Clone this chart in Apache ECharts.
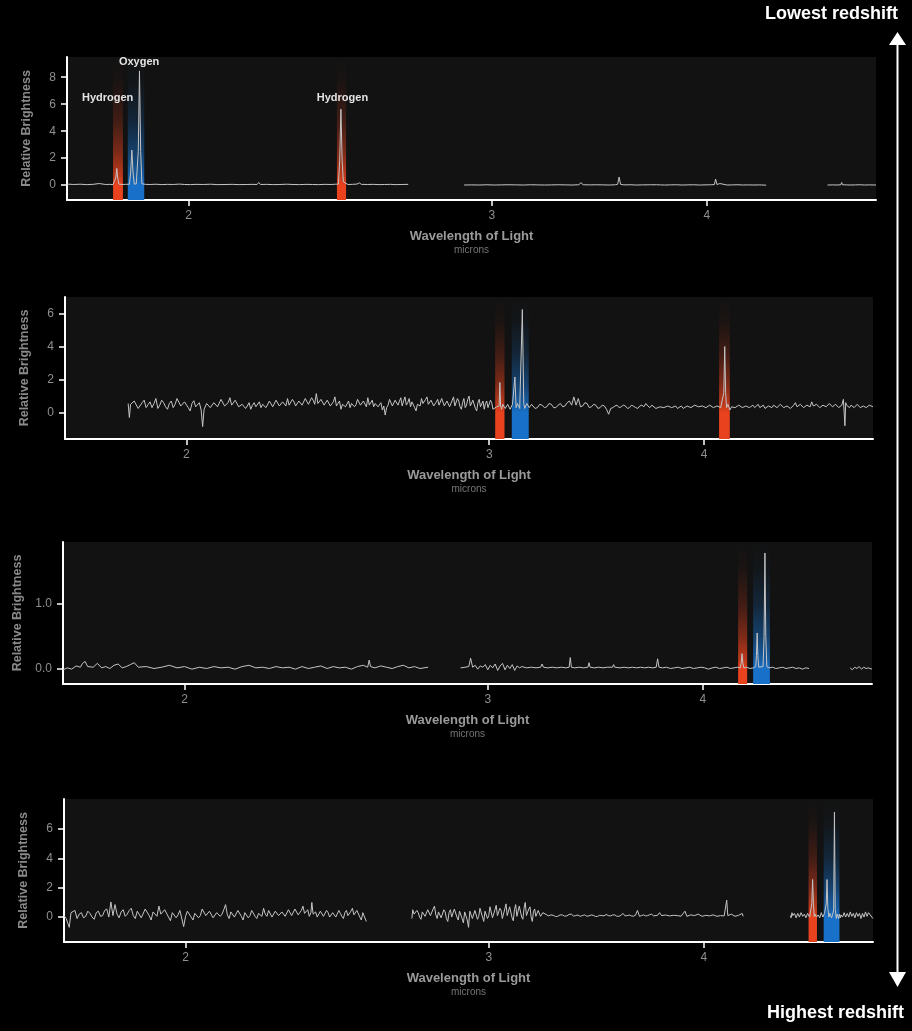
<!DOCTYPE html>
<html><head><meta charset="utf-8">
<script src="https://cdn.jsdelivr.net/npm/echarts@6/dist/echarts.min.js"></script>
<style>html,body{margin:0;padding:0;background:#000;}#c{width:912px;height:1031px;}</style>
</head><body><div id="c"></div>
<script>
// ---------- axis ticks ----------
const xTicks = [2, 3, 4];
const yTicks1 = [0, 2, 4, 6, 8];
const yTicks2 = [0, 2, 4, 6];
const yTicks3 = [0, 1];
const yTicks4 = [0, 2, 4, 6];

// ---------- emission-line bands (wavelength ranges, microns) ----------
const red1 = [[1.808, 1.832], [2.439, 2.469]];
const blue1 = [[1.844, 1.885]];
const red2 = [[3.024, 3.062], [4.081, 4.140]];
const blue2 = [[3.092, 3.163]];
const red3 = [[4.193, 4.244]];
const blue3 = [[4.278, 4.375]];
const red4 = [[4.601, 4.653]];
const blue4 = [[4.695, 4.795]];

// ---------- line annotations (panel 1) ----------
const labels1 = [['Hydrogen', 1.795, 6.5], ['Oxygen', 1.872, 9.13], ['Hydrogen', 2.457, 6.5]];

// ---------- spectra [wavelength, relative brightness] ----------
const spec1a = [[1.700,0.08],[1.715,0.05],[1.730,0.07],[1.745,0.04],[1.760,0.06],[1.775,0.12],[1.790,0.05],[1.800,0.06],[1.808,0.04],[1.812,0.08],[1.815,0.6],[1.817,1.24],[1.819,0.6],[1.822,0.08],[1.830,0.05],[1.838,0.06],[1.848,0.07],[1.851,0.9],[1.854,2.6],[1.857,0.9],[1.860,0.08],[1.865,0.09],[1.867,0.1],[1.870,2.5],[1.873,8.47],[1.876,2.5],[1.879,0.1],[1.888,0.06],[1.900,0.05],[1.915,0.07],[1.930,0.04],[1.945,0.06],[1.960,0.05],[1.975,0.08],[1.990,0.05],[2.005,0.04],[2.020,0.06],[2.040,0.05],[2.060,0.07],[2.080,0.04],[2.100,0.05],[2.120,0.06],[2.140,0.04],[2.160,0.05],[2.180,0.06],[2.192,0.05],[2.197,0.2],[2.202,0.05],[2.220,0.06],[2.240,0.04],[2.260,0.05],[2.280,0.07],[2.300,0.05],[2.320,0.04],[2.340,0.06],[2.360,0.05],[2.380,0.04],[2.400,0.06],[2.420,0.05],[2.435,0.07],[2.444,0.08],[2.448,1.8],[2.452,5.63],[2.456,1.8],[2.460,0.25],[2.466,0.12],[2.475,0.05],[2.490,0.06],[2.505,0.08],[2.513,0.17],[2.520,0.06],[2.540,0.05],[2.560,0.06],[2.580,0.04],[2.600,0.05],[2.620,0.06],[2.640,0.04],[2.660,0.05],[2.683,0.06]];
const spec1b = [[2.891,0.01],[2.92,0.02],[2.95,0.01],[2.98,0.03],[3.01,0.01],[3.04,0.02],[3.07,0.03],[3.10,0.02],[3.13,0.01],[3.16,0.03],[3.19,0.02],[3.22,0.01],[3.25,0.02],[3.28,0.03],[3.31,0.02],[3.34,0.01],[3.37,0.03],[3.38,0.18],[3.39,0.03],[3.42,0.02],[3.45,0.03],[3.48,0.02],[3.51,0.01],[3.54,0.03],[3.550,0.06],[3.557,0.6],[3.564,0.06],[3.58,0.02],[3.61,0.03],[3.64,0.01],[3.67,0.02],[3.71,0.03],[3.74,0.03],[3.75,0.12],[3.76,0.02],[3.78,0.01],[3.81,0.02],[3.84,0.03],[3.87,0.01],[3.90,0.02],[3.93,0.03],[3.96,0.01],[3.99,0.02],[4.02,0.03],[4.040,0.04],[4.047,0.45],[4.054,0.05],[4.070,0.12],[4.08,0.03],[4.11,0.01],[4.14,0.02],[4.17,0.03],[4.20,0.01],[4.23,0.02],[4.26,0.01],[4.29,0.02],[4.33,0.00]];
const spec1c = [[4.70,0.01],[4.73,0.02],[4.76,0.01],[4.785,0.03],[4.79,0.2],[4.795,0.03],[4.82,0.02],[4.85,0.01],[4.88,0.02],[4.91,0.03],[4.94,0.01],[4.97,0.02],[5.015,0.01]];

const spec2 = [[1.850,0.55],[1.853,-0.30],[1.856,0.50],[1.86,0.40],[1.865,0.70],[1.87,0.62],[1.875,0.25],[1.88,0.35],[1.885,0.60],[1.89,0.75],[1.895,0.30],[1.90,0.48],[1.905,0.65],[1.91,0.30],[1.915,0.55],[1.92,0.85],[1.925,0.25],[1.93,0.45],[1.935,0.75],[1.94,0.60],[1.945,0.35],[1.95,0.20],[1.955,0.55],[1.96,0.70],[1.965,0.30],[1.97,0.50],[1.975,0.85],[1.98,0.78],[1.985,0.40],[1.99,0.35],[1.995,0.65],[2.00,0.60],[2.005,0.30],[2.01,0.10],[2.015,0.55],[2.02,0.72],[2.025,0.35],[2.03,0.40],[2.035,0.60],[2.04,0.15],[2.044,-0.85],[2.048,0.20],[2.05,0.30],[2.055,0.55],[2.06,0.45],[2.065,0.30],[2.07,0.38],[2.075,0.60],[2.08,0.55],[2.085,0.35],[2.09,0.42],[2.095,0.80],[2.10,0.70],[2.105,0.40],[2.11,0.35],[2.115,0.60],[2.12,0.90],[2.125,0.45],[2.13,0.50],[2.135,0.75],[2.14,0.65],[2.145,0.35],[2.15,0.30],[2.155,0.50],[2.16,0.55],[2.165,0.25],[2.17,0.40],[2.175,0.60],[2.18,0.20],[2.185,0.45],[2.19,0.60],[2.195,0.35],[2.20,0.45],[2.205,0.65],[2.21,0.30],[2.215,0.50],[2.22,0.52],[2.225,0.30],[2.23,0.38],[2.235,0.70],[2.24,0.62],[2.245,0.35],[2.25,0.45],[2.255,0.75],[2.26,0.70],[2.265,0.40],[2.27,0.40],[2.275,0.65],[2.28,0.55],[2.285,0.40],[2.29,0.85],[2.295,0.45],[2.30,0.50],[2.305,0.80],[2.31,0.65],[2.315,0.40],[2.32,0.45],[2.325,0.70],[2.33,0.80],[2.335,0.45],[2.34,0.55],[2.345,0.85],[2.35,0.95],[2.355,0.50],[2.36,0.60],[2.365,0.90],[2.37,0.75],[2.375,0.50],[2.38,1.15],[2.385,0.55],[2.39,0.50],[2.395,0.80],[2.40,0.85],[2.405,0.45],[2.41,0.40],[2.415,0.75],[2.42,0.70],[2.425,0.40],[2.43,0.35],[2.435,0.65],[2.44,0.95],[2.445,0.40],[2.45,0.55],[2.455,0.70],[2.46,0.20],[2.465,0.50],[2.47,0.60],[2.475,0.35],[2.48,0.45],[2.485,0.70],[2.49,0.30],[2.495,0.55],[2.50,0.62],[2.505,0.35],[2.51,0.48],[2.515,0.80],[2.52,0.75],[2.525,0.45],[2.53,0.40],[2.535,0.70],[2.54,0.58],[2.545,0.35],[2.55,0.90],[2.555,0.45],[2.56,0.50],[2.565,0.75],[2.57,0.35],[2.575,0.55],[2.58,0.65],[2.585,0.35],[2.59,0.45],[2.595,0.60],[2.60,0.15],[2.605,0.40],[2.61,-0.15],[2.615,0.30],[2.62,0.45],[2.625,0.80],[2.63,0.70],[2.635,0.40],[2.64,0.50],[2.645,0.75],[2.65,0.85],[2.655,0.45],[2.66,0.55],[2.665,0.90],[2.67,0.40],[2.675,0.70],[2.68,0.95],[2.685,0.45],[2.69,0.60],[2.695,0.85],[2.70,0.35],[2.705,0.65],[2.71,0.55],[2.715,0.30],[2.72,0.10],[2.725,0.50],[2.73,0.62],[2.735,0.40],[2.74,0.85],[2.745,0.55],[2.75,0.50],[2.755,0.80],[2.76,0.95],[2.765,0.50],[2.77,0.45],[2.775,0.75],[2.78,0.70],[2.785,0.40],[2.79,0.35],[2.795,0.65],[2.80,0.80],[2.805,0.45],[2.81,0.55],[2.815,0.85],[2.82,0.90],[2.825,0.40],[2.83,0.40],[2.835,0.70],[2.84,0.75],[2.845,0.35],[2.85,0.30],[2.855,0.75],[2.86,0.95],[2.865,0.40],[2.87,0.50],[2.875,0.85],[2.88,0.70],[2.885,0.35],[2.89,0.20],[2.895,0.60],[2.90,0.85],[2.905,0.30],[2.91,0.45],[2.915,0.80],[2.92,1.00],[2.925,0.40],[2.93,0.30],[2.935,0.75],[2.94,0.65],[2.945,0.25],[2.95,0.10],[2.955,0.60],[2.96,0.80],[2.965,0.35],[2.97,0.40],[2.975,0.70],[2.98,0.20],[2.985,0.55],[2.99,0.70],[2.995,0.30],[3.00,0.35],[3.005,0.75],[3.01,0.60],[3.015,0.20],[3.02,0.25],[3.030,0.35],[3.038,0.30],[3.040,0.40],[3.043,1.82],[3.046,0.40],[3.05,0.20],[3.055,0.50],[3.06,0.55],[3.065,0.25],[3.07,0.30],[3.075,0.50],[3.08,0.45],[3.085,0.20],[3.09,0.25],[3.095,0.50],[3.100,0.45],[3.105,2.15],[3.110,0.30],[3.115,0.55],[3.12,0.50],[3.125,0.25],[3.130,0.35],[3.136,6.24],[3.142,0.55],[3.146,0.25],[3.15,0.30],[3.155,0.55],[3.16,0.50],[3.165,0.30],[3.17,0.35],[3.175,0.50],[3.18,0.40],[3.19,0.25],[3.20,0.30],[3.21,0.50],[3.22,0.45],[3.23,0.30],[3.24,0.35],[3.25,0.55],[3.26,0.50],[3.27,0.30],[3.28,0.30],[3.29,0.45],[3.30,0.55],[3.31,0.35],[3.32,0.40],[3.33,0.60],[3.34,0.70],[3.35,0.45],[3.36,0.95],[3.37,0.45],[3.38,0.85],[3.39,0.35],[3.40,0.40],[3.41,0.60],[3.42,0.55],[3.43,0.30],[3.44,0.35],[3.45,0.50],[3.46,0.45],[3.47,0.25],[3.48,0.30],[3.49,0.45],[3.50,0.40],[3.51,0.20],[3.52,-0.10],[3.53,0.25],[3.54,0.30],[3.55,0.40],[3.56,0.45],[3.57,0.30],[3.58,0.35],[3.59,0.45],[3.60,0.40],[3.61,0.25],[3.62,0.30],[3.63,0.45],[3.64,0.38],[3.65,0.30],[3.66,0.25],[3.67,0.40],[3.68,0.45],[3.69,0.35],[3.70,0.55],[3.71,0.40],[3.72,0.30],[3.73,0.45],[3.74,0.35],[3.75,0.25],[3.76,0.20],[3.77,0.35],[3.78,0.40],[3.79,0.30],[3.80,0.30],[3.81,0.40],[3.82,0.45],[3.83,0.30],[3.84,0.35],[3.85,0.40],[3.86,0.25],[3.87,0.35],[3.88,0.40],[3.89,0.25],[3.90,0.30],[3.91,0.40],[3.92,0.45],[3.93,0.30],[3.94,0.35],[3.95,0.45],[3.96,0.55],[3.97,0.35],[3.98,0.30],[3.99,0.40],[4.00,0.40],[4.01,0.30],[4.02,0.35],[4.03,0.45],[4.04,0.45],[4.05,0.30],[4.06,0.30],[4.07,0.40],[4.08,0.40],[4.09,0.30],[4.100,0.35],[4.107,1.2],[4.112,4.0],[4.117,1.2],[4.122,0.30],[4.13,0.50],[4.14,0.15],[4.15,0.35],[4.16,0.45],[4.17,0.30],[4.18,0.30],[4.19,0.45],[4.20,0.40],[4.21,0.30],[4.22,0.25],[4.23,0.40],[4.24,0.45],[4.25,0.30],[4.26,0.35],[4.27,0.45],[4.28,0.30],[4.29,0.40],[4.30,0.50],[4.31,0.30],[4.32,0.35],[4.33,0.45],[4.34,0.25],[4.35,0.35],[4.36,0.40],[4.37,0.30],[4.38,0.30],[4.39,0.45],[4.40,0.55],[4.41,0.30],[4.42,0.35],[4.43,0.50],[4.44,0.45],[4.45,0.30],[4.46,0.25],[4.47,0.40],[4.48,0.40],[4.49,0.25],[4.50,0.30],[4.51,0.45],[4.52,0.60],[4.53,0.35],[4.54,0.40],[4.55,0.50],[4.56,0.45],[4.57,0.30],[4.58,0.30],[4.59,0.45],[4.60,0.50],[4.61,0.35],[4.62,0.65],[4.63,0.40],[4.64,0.35],[4.65,0.50],[4.66,0.45],[4.67,0.30],[4.68,0.30],[4.69,0.45],[4.70,0.55],[4.71,0.35],[4.72,0.40],[4.73,0.55],[4.74,0.60],[4.75,0.35],[4.76,0.35],[4.77,0.50],[4.78,0.50],[4.79,0.30],[4.80,0.30],[4.81,0.45],[4.82,0.80],[4.83,-0.80],[4.835,0.60],[4.84,0.45],[4.85,0.35],[4.86,0.30],[4.87,0.45],[4.88,0.50],[4.89,0.30],[4.90,0.35],[4.91,0.50],[4.92,0.45],[4.93,0.30],[4.94,0.25],[4.95,0.40],[4.96,0.40],[4.97,0.30],[4.98,0.30],[4.99,0.45],[5.015,0.35]];

const spec3a = [[1.700,-0.02],[1.71,0.01],[1.72,-0.01],[1.73,0.04],[1.74,0.02],[1.745,0.08],[1.751,0.11],[1.757,0.03],[1.76,0.06],[1.77,0.02],[1.78,0.08],[1.79,0.01],[1.80,0.03],[1.81,0.00],[1.82,0.05],[1.83,0.07],[1.84,0.01],[1.85,0.03],[1.86,0.06],[1.87,0.09],[1.88,0.02],[1.90,0.03],[1.92,0.00],[1.94,0.02],[1.96,0.05],[1.98,0.01],[2.00,0.03],[2.02,-0.01],[2.04,0.02],[2.06,0.00],[2.08,0.03],[2.10,0.01],[2.12,0.02],[2.14,-0.01],[2.16,0.03],[2.18,0.05],[2.20,0.01],[2.22,0.02],[2.24,0.00],[2.26,0.03],[2.28,0.01],[2.30,0.02],[2.32,-0.01],[2.34,0.03],[2.36,0.00],[2.38,0.02],[2.40,0.04],[2.42,0.00],[2.44,0.03],[2.46,0.01],[2.48,0.02],[2.50,-0.01],[2.52,0.03],[2.54,0.05],[2.555,0.02],[2.56,0.13],[2.565,0.03],[2.58,0.01],[2.60,0.04],[2.62,0.02],[2.64,0.00],[2.66,0.03],[2.68,0.05],[2.70,0.01],[2.72,0.03],[2.74,0.00],[2.77,0.02]];
const spec3b = [[2.893,0.01],[2.91,0.02],[2.925,0.03],[2.932,0.16],[2.94,0.02],[2.95,0.05],[2.96,-0.01],[2.97,0.04],[2.98,0.02],[2.99,0.06],[3.00,-0.02],[3.01,0.05],[3.02,0.01],[3.03,0.07],[3.04,-0.03],[3.05,0.04],[3.06,0.08],[3.07,-0.02],[3.08,0.05],[3.09,0.00],[3.10,0.06],[3.11,-0.03],[3.12,0.04],[3.13,0.01],[3.14,0.03],[3.16,0.01],[3.18,0.02],[3.20,0.01],[3.22,0.02],[3.226,0.07],[3.232,0.02],[3.25,0.01],[3.27,0.02],[3.29,0.01],[3.31,0.02],[3.33,0.01],[3.345,0.02],[3.35,0.17],[3.355,0.02],[3.37,0.01],[3.39,0.02],[3.41,0.01],[3.43,0.02],[3.435,0.09],[3.44,0.02],[3.46,0.01],[3.48,0.02],[3.50,0.01],[3.52,0.02],[3.545,0.02],[3.55,0.06],[3.555,0.02],[3.58,0.01],[3.60,0.02],[3.62,0.01],[3.64,0.02],[3.66,0.01],[3.68,0.02],[3.70,0.01],[3.72,0.02],[3.74,0.01],[3.758,0.02],[3.765,0.15],[3.772,0.02],[3.79,0.01],[3.81,0.02],[3.83,0.00],[3.85,0.01],[3.87,0.02],[3.89,0.00],[3.91,0.01],[3.93,0.02],[3.95,0.00],[3.97,0.01],[3.99,0.02],[4.01,0.01],[4.03,-0.01],[4.05,0.01],[4.07,0.02],[4.09,0.00],[4.11,0.01],[4.13,0.02],[4.15,0.00],[4.17,0.01],[4.19,0.02],[4.205,0.01],[4.210,0.08],[4.215,0.23],[4.220,0.08],[4.225,0.01],[4.24,0.02],[4.26,0.00],[4.28,0.01],[4.293,0.03],[4.297,0.2],[4.301,0.55],[4.305,0.2],[4.310,0.02],[4.320,0.02],[4.335,0.03],[4.341,0.5],[4.346,1.79],[4.351,0.5],[4.357,0.03],[4.37,0.01],[4.39,0.02],[4.41,0.00],[4.43,0.01],[4.45,0.02],[4.47,0.00],[4.49,0.01],[4.51,0.02],[4.53,0.00],[4.55,0.01],[4.57,-0.01],[4.59,0.01],[4.61,0.00]];
const spec3c = [[4.87,0.01],[4.885,-0.02],[4.90,0.02],[4.915,0.00],[4.93,0.03],[4.945,-0.01],[4.96,0.02],[4.975,0.00],[4.99,0.01],[5.015,-0.01]];

const spec4a = [[1.700,0.10],[1.705,-0.10],[1.712,-0.70],[1.716,0.30],[1.720,0.20],[1.725,0.45],[1.73,-0.10],[1.735,0.20],[1.74,0.30],[1.745,-0.05],[1.75,0.05],[1.755,0.40],[1.76,0.25],[1.765,0.00],[1.77,-0.15],[1.775,0.30],[1.78,0.40],[1.785,0.05],[1.79,0.10],[1.795,0.45],[1.80,0.55],[1.805,0.00],[1.81,1.03],[1.815,0.10],[1.82,0.85],[1.825,0.20],[1.83,-0.05],[1.835,0.35],[1.84,0.50],[1.845,0.05],[1.85,0.20],[1.855,0.45],[1.86,0.60],[1.865,0.10],[1.87,-0.10],[1.875,0.40],[1.88,0.35],[1.885,-0.05],[1.89,0.05],[1.895,0.55],[1.90,0.45],[1.905,0.10],[1.91,-0.20],[1.915,0.35],[1.92,0.30],[1.925,0.05],[1.93,0.75],[1.935,0.20],[1.94,0.10],[1.945,0.50],[1.95,0.40],[1.955,0.00],[1.96,-0.25],[1.965,0.30],[1.97,0.35],[1.975,-0.05],[1.98,0.15],[1.985,0.45],[1.99,0.55],[1.995,-0.65],[2.00,0.05],[2.005,0.40],[2.01,0.30],[2.015,0.00],[2.02,-0.20],[2.025,0.25],[2.03,0.35],[2.035,-0.05],[2.04,0.10],[2.045,0.55],[2.05,0.45],[2.055,0.10],[2.06,0.00],[2.065,0.40],[2.07,0.30],[2.075,-0.05],[2.08,-0.15],[2.085,0.30],[2.09,0.40],[2.095,0.05],[2.10,0.20],[2.105,0.50],[2.11,0.85],[2.115,0.15],[2.12,-0.10],[2.125,0.35],[2.13,0.30],[2.135,0.00],[2.14,0.05],[2.145,0.45],[2.15,0.40],[2.155,0.05],[2.16,-0.20],[2.165,0.30],[2.17,0.25],[2.175,-0.05],[2.18,0.10],[2.185,0.45],[2.19,0.35],[2.195,0.05],[2.20,-0.10],[2.205,0.25],[2.21,0.30],[2.215,0.05],[2.22,0.60],[2.225,0.20],[2.23,0.05],[2.235,0.45],[2.24,0.35],[2.245,0.00],[2.25,0.10],[2.255,0.40],[2.26,0.50],[2.265,0.10],[2.27,0.00],[2.275,0.35],[2.28,0.30],[2.285,0.05],[2.29,0.15],[2.295,0.50],[2.30,0.40],[2.305,0.10],[2.31,0.20],[2.315,0.55],[2.32,0.65],[2.325,0.15],[2.33,0.10],[2.335,0.45],[2.34,0.75],[2.345,0.25],[2.35,0.20],[2.355,0.50],[2.36,0.05],[2.365,0.30],[2.368,1.00],[2.372,0.20],[2.375,0.10],[2.38,0.35],[2.385,0.00],[2.39,0.05],[2.395,0.40],[2.40,0.40],[2.405,0.05],[2.41,0.15],[2.415,0.45],[2.42,0.30],[2.425,0.00],[2.43,-0.05],[2.435,0.30],[2.44,0.35],[2.445,0.00],[2.45,0.10],[2.455,0.45],[2.46,0.25],[2.465,0.05],[2.47,-0.10],[2.475,0.30],[2.48,0.45],[2.485,0.10],[2.49,0.05],[2.495,0.40],[2.50,0.60],[2.505,0.15],[2.51,0.10],[2.515,0.45],[2.52,0.35],[2.525,0.00],[2.53,-0.20],[2.535,0.30],[2.54,0.20],[2.547,-0.30]];
const spec4b = [[2.707,-0.10],[2.71,0.50],[2.715,0.20],[2.72,0.10],[2.725,0.45],[2.73,0.30],[2.735,0.00],[2.74,-0.15],[2.745,0.35],[2.75,0.40],[2.755,0.05],[2.76,0.15],[2.765,0.50],[2.77,0.55],[2.775,0.10],[2.78,0.20],[2.785,0.55],[2.79,0.75],[2.795,0.15],[2.80,-0.10],[2.805,0.35],[2.81,0.40],[2.815,-0.05],[2.82,0.05],[2.825,0.50],[2.83,0.35],[2.835,-0.10],[2.84,-0.30],[2.845,0.30],[2.85,0.50],[2.855,0.00],[2.86,0.10],[2.865,0.55],[2.87,0.60],[2.875,0.00],[2.88,-0.20],[2.885,0.40],[2.89,0.45],[2.895,-0.10],[2.90,-0.40],[2.905,0.35],[2.91,0.30],[2.915,-0.20],[2.92,-0.70],[2.925,0.40],[2.93,0.50],[2.935,-0.10],[2.94,-0.20],[2.945,0.45],[2.95,0.40],[2.955,-0.15],[2.96,0.05],[2.965,0.60],[2.97,0.55],[2.975,0.00],[2.98,-0.30],[2.985,0.40],[2.99,0.35],[2.995,-0.10],[3.00,0.10],[3.005,0.70],[3.01,0.60],[3.015,-0.05],[3.02,-0.15],[3.025,0.50],[3.03,0.80],[3.035,0.10],[3.04,0.00],[3.045,0.60],[3.05,0.45],[3.055,-0.10],[3.06,-0.20],[3.065,0.55],[3.07,0.90],[3.075,0.10],[3.08,0.05],[3.085,0.70],[3.09,0.60],[3.095,-0.05],[3.10,-0.25],[3.105,0.50],[3.11,0.85],[3.115,0.05],[3.12,0.10],[3.125,0.75],[3.13,0.65],[3.135,0.00],[3.14,-0.15],[3.145,0.60],[3.15,1.00],[3.155,0.10],[3.16,0.05],[3.165,0.55],[3.17,0.70],[3.175,0.00],[3.18,-0.30],[3.185,0.40],[3.19,0.55],[3.195,0.05],[3.20,0.10],[3.205,0.45],[3.21,0.35],[3.215,0.05],[3.22,0.00],[3.225,0.30],[3.23,0.20],[3.25,0.08],[3.26,0.15],[3.27,0.12],[3.28,0.04],[3.29,0.05],[3.30,0.14],[3.31,0.15],[3.32,0.06],[3.33,0.08],[3.34,0.18],[3.35,0.20],[3.36,0.07],[3.37,0.10],[3.38,0.14],[3.39,0.05],[3.40,0.10],[3.41,0.15],[3.42,0.06],[3.43,0.08],[3.44,0.14],[3.45,0.12],[3.46,0.04],[3.47,0.05],[3.48,0.12],[3.49,0.10],[3.50,0.08],[3.51,0.18],[3.52,0.10],[3.53,0.08],[3.54,0.14],[3.55,0.15],[3.56,0.06],[3.57,0.05],[3.58,0.12],[3.59,0.25],[3.60,0.08],[3.61,0.10],[3.62,0.14],[3.63,0.08],[3.64,0.06],[3.65,0.12],[3.66,0.45],[3.67,0.05],[3.68,0.10],[3.69,0.15],[3.70,0.08],[3.71,0.10],[3.72,0.16],[3.73,0.20],[3.74,0.08],[3.75,0.05],[3.76,0.12],[3.77,0.30],[3.78,0.10],[3.79,0.08],[3.80,0.14],[3.81,0.20],[3.82,0.08],[3.83,0.10],[3.84,0.12],[3.85,0.05],[3.86,0.10],[3.87,0.15],[3.88,0.06],[3.89,0.10],[3.90,0.40],[3.91,0.05],[3.92,0.10],[3.93,0.15],[3.94,0.06],[3.95,0.10],[3.96,0.14],[3.97,0.20],[3.98,0.08],[3.99,0.05],[4.00,0.10],[4.01,0.12],[4.02,0.05],[4.03,0.08],[4.04,0.12],[4.05,0.15],[4.06,0.06],[4.07,0.05],[4.08,0.12],[4.09,0.10],[4.10,0.05],[4.11,0.08],[4.118,0.15],[4.124,1.15],[4.13,0.10],[4.14,0.06],[4.15,0.20],[4.16,0.10],[4.17,0.05],[4.18,0.14],[4.19,0.12],[4.20,0.06],[4.21,0.25],[4.216,0.05]];
const spec4c = [[4.490,0.10],[4.495,-0.05],[4.50,0.30],[4.505,0.10],[4.51,0.05],[4.515,0.25],[4.52,0.20],[4.525,-0.05],[4.53,0.00],[4.535,0.25],[4.54,0.15],[4.545,0.00],[4.55,0.05],[4.555,0.30],[4.56,0.25],[4.565,0.05],[4.57,-0.05],[4.575,0.20],[4.58,0.15],[4.585,-0.05],[4.59,0.05],[4.595,0.25],[4.600,0.20],[4.608,0.00],[4.615,0.10],[4.621,0.9],[4.626,2.56],[4.631,0.9],[4.636,0.05],[4.640,0.20],[4.645,0.25],[4.650,0.00],[4.655,-0.10],[4.660,0.15],[4.665,0.20],[4.670,-0.05],[4.675,0.00],[4.680,0.30],[4.685,0.25],[4.690,0.00],[4.695,0.05],[4.700,0.25],[4.705,0.15],[4.711,0.9],[4.716,2.56],[4.721,0.6],[4.728,0.00],[4.734,0.25],[4.740,0.20],[4.745,-0.05],[4.750,0.10],[4.758,0.5],[4.763,7.15],[4.768,0.5],[4.775,-0.10],[4.780,0.20],[4.785,0.15],[4.79,-0.10],[4.795,0.20],[4.80,-0.05],[4.805,0.15],[4.81,0.20],[4.815,0.00],[4.82,0.05],[4.825,0.30],[4.83,0.25],[4.835,0.00],[4.84,0.00],[4.845,0.25],[4.85,0.20],[4.855,0.00],[4.86,0.10],[4.865,0.35],[4.87,0.30],[4.875,0.05],[4.88,0.05],[4.885,0.25],[4.89,0.20],[4.895,-0.05],[4.90,0.00],[4.905,0.30],[4.91,0.25],[4.915,0.05],[4.92,0.10],[4.925,0.25],[4.93,0.15],[4.935,-0.10],[4.94,-0.05],[4.945,0.25],[4.95,0.20],[4.955,0.00],[4.96,0.05],[4.965,0.35],[4.97,0.30],[4.975,0.05],[4.98,0.10],[4.985,0.30],[4.99,0.20],[5.015,-0.10]];

// ---------- layout / style ----------
const FONT = '"Liberation Sans", Arial, Helvetica, sans-serif';
const RED = '232,66,30', BLUE = '24,112,200';
const panels = [
  {grid:{left:67, top:57, width:809, height:143}, segs:[spec1a, spec1b, spec1c], red:red1, blue:blue1, yMin:-1.1, yMax:9.5, yTicks:yTicks1, dec:0, labels:labels1},
  {grid:{left:65, top:297, width:808, height:142}, segs:[spec2], red:red2, blue:blue2, yMin:-1.6, yMax:7.0, yTicks:yTicks2, dec:0},
  {grid:{left:63, top:542, width:809, height:142}, segs:[spec3a, spec3b, spec3c], red:red3, blue:blue3, yMin:-0.24, yMax:1.96, yTicks:yTicks3, dec:1},
  {grid:{left:64, top:799, width:809, height:143}, segs:[spec4a, spec4b, spec4c], red:red4, blue:blue4, yMin:-1.7, yMax:8.05, yTicks:yTicks4, dec:0}
];

function bandGrad(rgb, zf) {
  return {type:'linear', x:0, y:0, x2:0, y2:1, colorStops:[
    {offset:0, color:'rgba('+rgb+',0)'},
    {offset:zf*0.2, color:'rgba('+rgb+',0.04)'},
    {offset:zf*0.5, color:'rgba('+rgb+',0.22)'},
    {offset:zf*0.75, color:'rgba('+rgb+',0.5)'},
    {offset:zf*0.93, color:'rgba('+rgb+',0.8)'},
    {offset:zf, color:'rgba('+rgb+',1)'},
    {offset:1, color:'rgba('+rgb+',1)'}
  ]};
}

const grids = [], xAxes = [], yAxes = [], series = [];
panels.forEach((p, i) => {
  grids.push(Object.assign({show:true, backgroundColor:'#121212', borderWidth:0, outerBoundsMode:'none', containLabel:false}, p.grid));
  xAxes.push({
    gridIndex:i, type:'log', logBase:10, min:1.70, max:5.015,
    axisLine:{onZero:false, lineStyle:{color:'#ffffff', width:2}},
    axisTick:{show:true, customValues:xTicks, length:6, lineStyle:{color:'#ffffff', width:1.5}},
    axisLabel:{show:true, customValues:xTicks, color:'#8f8f8f', fontSize:12, margin:10, fontFamily:FONT},
    splitLine:{show:false}, minorTick:{show:false},
    name:'{a|Wavelength of Light}\n{b|microns}', nameLocation:'middle', nameGap:28,
    nameTextStyle:{align:'center', verticalAlign:'top', rich:{
      a:{fontSize:13, fontWeight:'bold', color:'#9a9a9a', fontFamily:FONT, lineHeight:16, align:'center'},
      b:{fontSize:10, color:'#767676', fontFamily:FONT, lineHeight:12, align:'center'}}}
  });
  yAxes.push({
    gridIndex:i, type:'value', min:p.yMin, max:p.yMax,
    axisLine:{show:true, onZero:false, lineStyle:{color:'#ffffff', width:2}},
    axisTick:{show:true, customValues:p.yTicks, length:6, lineStyle:{color:'#ffffff', width:1.5}},
    axisLabel:{show:true, customValues:p.yTicks, color:'#8f8f8f', fontSize:12, margin:11, fontFamily:FONT,
      formatter: v => Number(v).toFixed(p.dec)},
    splitLine:{show:false},
    name:'Relative Brightness', nameLocation:'middle', nameGap:34, nameRotate:90,
    nameTextStyle:{color:'#8a8a8a', fontSize:12.5, fontWeight:'bold', fontFamily:FONT}
  });
  const zf = p.yMax / (p.yMax - p.yMin);
  const bands = [];
  p.red.forEach(b => bands.push([{xAxis:b[0], itemStyle:{color:bandGrad(RED, zf)}}, {xAxis:b[1]}]));
  p.blue.forEach(b => bands.push([{xAxis:b[0], itemStyle:{color:bandGrad(BLUE, zf)}}, {xAxis:b[1]}]));
  series.push({type:'line', xAxisIndex:i, yAxisIndex:i, data:[], z:1, silent:true,
    markArea:{silent:true, z:1, data:bands}});
  p.segs.forEach((s, k) => {
    const ser = {type:'line', xAxisIndex:i, yAxisIndex:i, data:s, z:3, symbol:'none', showSymbol:false, silent:true,
      lineStyle:{color:'#c4c4c4', width:1}};
    if (p.labels && k === 0) {
      ser.markPoint = {silent:true, symbol:'rect', symbolSize:[1,1], itemStyle:{color:'rgba(0,0,0,0)'},
        label:{show:true, position:'inside', formatter:'{b}', color:'#e4e4e4', fontSize:11, fontWeight:'bold', fontFamily:FONT},
        data:p.labels.map(l => ({name:l[0], coord:[l[1], l[2]]}))};
    }
    series.push(ser);
  });
});

const chart = echarts.init(document.getElementById('c'), null, {renderer:'canvas'});
chart.setOption({
  backgroundColor:'#000000', animation:false,
  textStyle:{fontFamily:FONT},
  grid:grids, xAxis:xAxes, yAxis:yAxes, series:series,
  graphic:[
    {type:'text', right:14, top:5, style:{text:'Lowest redshift', fill:'#ffffff', font:'bold 18px ' + FONT}},
    {type:'line', shape:{x1:897.5, y1:44, x2:897.5, y2:973}, style:{stroke:'#ffffff', lineWidth:2}},
    {type:'polygon', shape:{points:[[889,45],[906,45],[897.5,32]]}, style:{fill:'#ffffff'}},
    {type:'polygon', shape:{points:[[889,972],[906,972],[897.5,987]]}, style:{fill:'#ffffff'}},
    {type:'text', right:8, top:1004, style:{text:'Highest redshift', fill:'#ffffff', font:'bold 18px ' + FONT}}
  ]
});
</script></body></html>
